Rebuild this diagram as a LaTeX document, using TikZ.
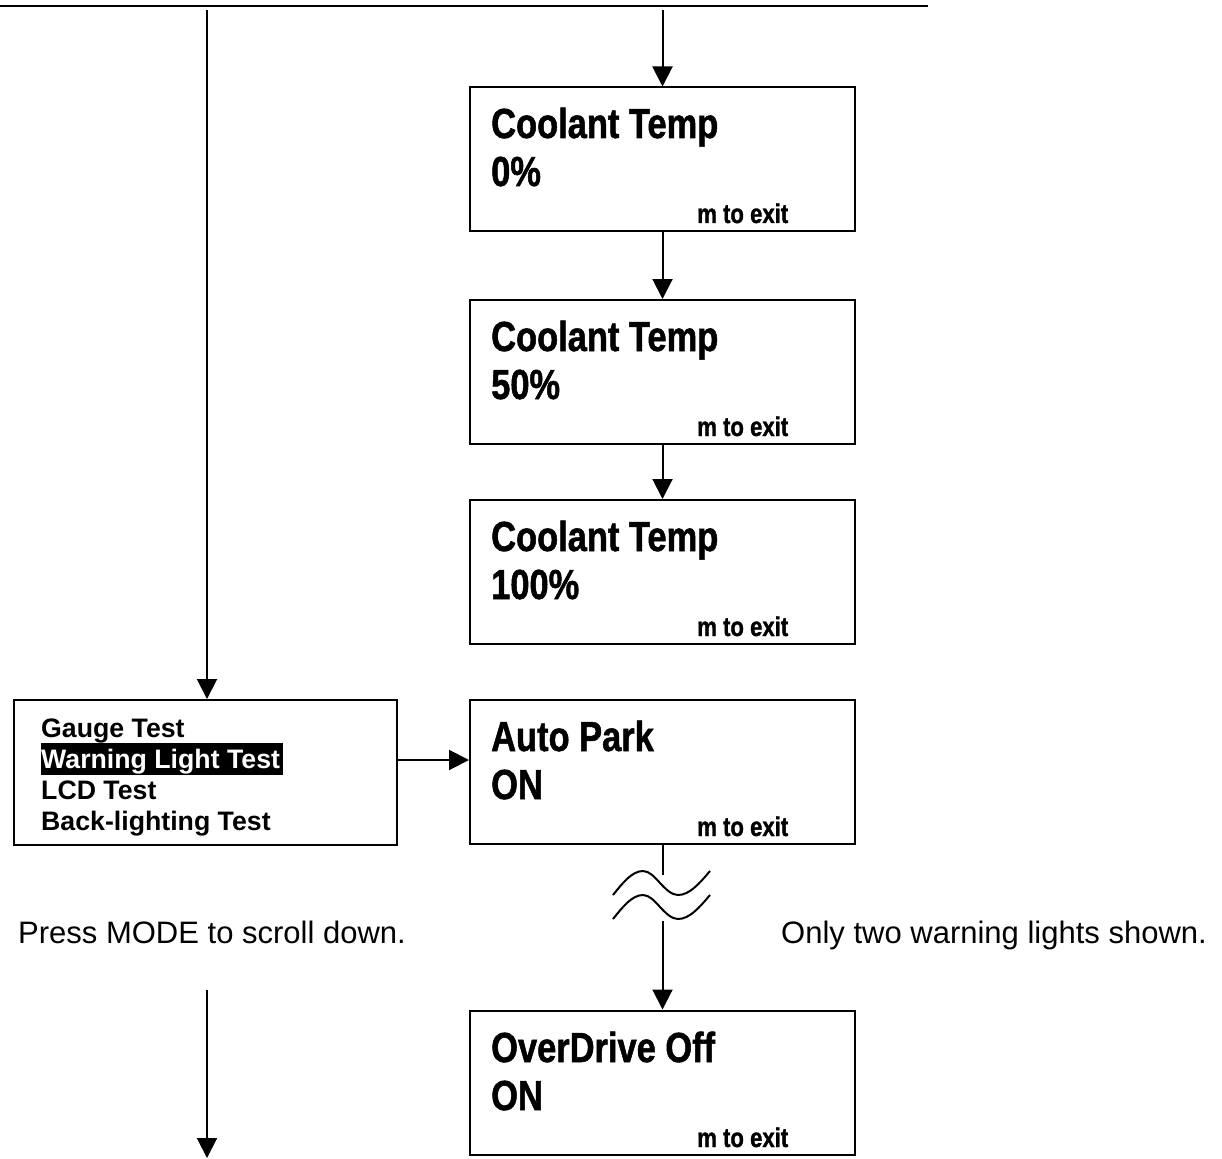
\documentclass[tikz,border=0pt]{standalone}
\usepackage{fontspec}
\setmainfont{Liberation Sans}
\newfontfamily\hdfont[FakeStretch=0.82,FakeBold=1.2]{Liberation Sans}
\usetikzlibrary{arrows.meta}
\begin{document}
\begin{tikzpicture}[x=1pt,y=-1pt,
  box/.style={draw, line width=2pt, minimum width=385pt, minimum height=144pt, inner sep=0pt},
  arr/.style={line width=2pt, -{Triangle[length=20pt,width=20pt]}},
  ln/.style={line width=2pt},
  title/.style={anchor=base west, inner sep=0pt, font=\hdfont\bfseries\fontsize{42}{42}\selectfont},
  exit/.style={anchor=base west, inner sep=0pt, font=\hdfont\bfseries\fontsize{27}{27}\selectfont},
  menu/.style={anchor=base west, inner sep=0pt, font=\bfseries\fontsize{26.7}{26.7}\selectfont},
  note/.style={inner sep=0pt, font=\fontsize{31}{31}\selectfont}]
\fill[white] (0,0) rectangle (1222,1158);
\useasboundingbox (0,0) rectangle (1222,1158);

% boxes
\node[box] (b1) at (662.5,159.5) {};
\node[box] (b2) at (662.5,372) {};
\node[box] (b3) at (662.5,572) {};
\node[box] (b4) at (662.5,772) {};
\node[box] (b5) at (662.5,1082.5) {};
\node[box, minimum width=383pt, minimum height=145pt] (lb) at (205.5,772.5) {};

% box texts
\node[title] (t1) at (491,138) {Coolant Temp};
\node[title] (v1) at (491,186) {0\%};
\node[exit]  (e1) at (697,223) {m to exit};
\node[title] (t2) at (491,351) {Coolant Temp};
\node[title] (v2) at (491,399) {50\%};
\node[exit]  (e2) at (697,436) {m to exit};
\node[title] (t3) at (491,551) {Coolant Temp};
\node[title] (v3) at (491,599) {100\%};
\node[exit]  (e3) at (697,636) {m to exit};
\node[title] (t4) at (491,751) {Auto Park};
\node[title] (v4) at (491,799) {ON};
\node[exit]  (e4) at (697,836) {m to exit};
\node[title] (t5) at (491,1062) {OverDrive Off};
\node[title] (v5) at (491,1110) {ON};
\node[exit]  (e5) at (697,1147) {m to exit};

% menu
\node[menu] (m1) at (41,737) {Gauge Test};
\fill[black] (41,743) rectangle (283,775);
\node[menu, text=white] (m2) at (41,768) {Warning Light Test};
\node[menu] (m3) at (41,799) {LCD Test};
\begin{scope}
  \clip (14,700) rectangle (397,835);
  \node[menu] (m4) at (41,830) {Back-lighting Test};
\end{scope}

% notes
\node[note, anchor=base west] (n1) at (18,943) {Press MODE to scroll down.};
\node[note, anchor=base east] (n2) at (1207,943) {Only two warning lights shown.};

% connectors
\coordinate (tl) at (0,6);
\coordinate (tr) at (928,6);
\draw[ln] (tl) -- (tr);
\coordinate (ls) at (207,10);
\draw[arr] (ls) -- (lb.north -| ls);
\coordinate (rs) at (662.5,10);
\draw[arr] (rs) -- (b1.north);
\draw[arr] (b1.south) -- (b2.north);
\draw[arr] (b2.south) -- (b3.north);
\coordinate (ha) at (397,760);
\draw[arr] (lb.east |- ha) -- (b4.west |- ha);
\coordinate (brk1) at (662.5,875);
\coordinate (brk2) at (662.5,921);
\draw[ln] (b4.south) -- (brk1);
\draw[arr] (brk2) -- (b5.north);
\coordinate (bl1) at (207,990);
\coordinate (bl2) at (207,1158);
\draw[arr] (bl1) -- (bl2);

% break waves
\draw[ln] (613,895) sin (643,871) cos (660,883) sin (678,895) cos (710,871);
\draw[ln] (613,919) sin (643,895) cos (660,907) sin (678,919) cos (710,895);
\end{tikzpicture}
\end{document}
